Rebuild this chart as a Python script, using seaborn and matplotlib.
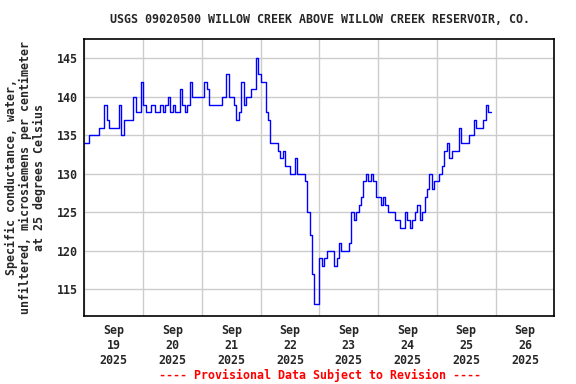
import matplotlib
matplotlib.use("Agg")
import matplotlib.pyplot as plt
import matplotlib.dates as mdates
import pandas as pd
import seaborn as sns

title = "USGS 09020500 WILLOW CREEK ABOVE WILLOW CREEK RESERVOIR, CO."
ylabel = "Specific conductance, water,\nunfiltered, microsiemens per centimeter\nat 25 degrees Celsius"
footer = "---- Provisional Data Subject to Revision ----"

start = "2025-09-19 00:00"
# hourly readings (uS/cm), one list per day
sep19 = [134, 134, 135, 135, 135, 135, 136, 136, 139, 137, 136, 136,
         136, 136, 139, 135, 137, 137, 137, 137, 140, 138, 138, 142]
sep20 = [139, 138, 138, 139, 139, 138, 138, 139, 138, 139, 140, 138,
         139, 138, 138, 141, 139, 138, 139, 142, 140, 140, 140, 140]
sep21 = [140, 142, 141, 139, 139, 139, 139, 139, 140, 140, 143, 140,
         140, 139, 137, 138, 142, 139, 140, 140, 141, 141, 145, 143]
sep22 = [142, 142, 138, 137, 134, 134, 134, 133, 132, 133, 131, 131,
         130, 130, 132, 130, 130, 130, 129, 125, 122, 117, 113, 113]
sep23 = [119, 118, 119, 120, 120, 120, 118, 119, 121, 120, 120, 120,
         121, 125, 124, 125, 126, 127, 129, 130, 129, 130, 129, 127]
sep24 = [127, 126, 127, 126, 125, 125, 125, 124, 124, 123, 123, 125,
         124, 123, 124, 125, 126, 124, 125, 127, 128, 130, 128, 129]
sep25 = [129, 130, 131, 133, 134, 132, 133, 133, 133, 136, 134, 134,
         134, 135, 135, 137, 136, 136, 136, 137, 139, 138, 138]

values = sep19 + sep20 + sep21 + sep22 + sep23 + sep24 + sep25
df = pd.DataFrame({
    "time": pd.date_range(start, periods=len(values), freq="h"),
    "value": values,
})

sns.set_style("white")
plt.rcParams["font.family"] = ["DejaVu Sans Mono"]
plt.rcParams["font.weight"] = "bold"

fig = plt.figure(figsize=(5.76, 3.84), dpi=100)
ax = fig.add_axes([0.1467, 0.1771, 0.8156, 0.7206])

sns.lineplot(data=df, x="time", y="value", ax=ax, color="#0000ff",
             linewidth=1.0, drawstyle="steps-post")

ax.set_xlim(pd.Timestamp("2025-09-19"), pd.Timestamp("2025-09-27"))
ax.set_ylim(111.5, 147.5)
ax.set_yticks([115, 120, 125, 130, 135, 140, 145])

ax.xaxis.set_major_locator(mdates.HourLocator(byhour=12))
ax.xaxis.set_major_formatter(mdates.DateFormatter("%b\n%d\n%Y"))
ax.xaxis.set_minor_locator(mdates.DayLocator())
ax.grid(False)
ax.grid(True, which="minor", axis="x", color="#cccccc", linewidth=1)
ax.grid(True, which="major", axis="y", color="#cccccc", linewidth=1)
ax.tick_params(axis="both", which="both", length=0, labelsize=8.4)
ax.tick_params(axis="x", pad=6)
ax.tick_params(axis="y", pad=5)
for lab in ax.get_xticklabels():
    lab.set_fontweight("bold")
for lab in ax.get_yticklabels():
    lab.set_fontweight("bold")

for sp in ax.spines.values():
    sp.set_color("black")
    sp.set_linewidth(1.2)

ax.set_xlabel("")
ax.set_ylabel("")

fig.text(0.5556, 0.9505, title, ha="center", va="center",
         fontsize=8.4, fontweight="bold")
fig.text(0.0443, 0.5378, ylabel, ha="center", va="center", rotation=90,
         multialignment="center", fontsize=8.4, fontweight="bold",
         linespacing=1.1)
fig.text(0.5556, 0.0234, footer, ha="center", va="center",
         fontsize=8.4, fontweight="bold", color="#ff0000")

fig.savefig("out.png", dpi=100)
